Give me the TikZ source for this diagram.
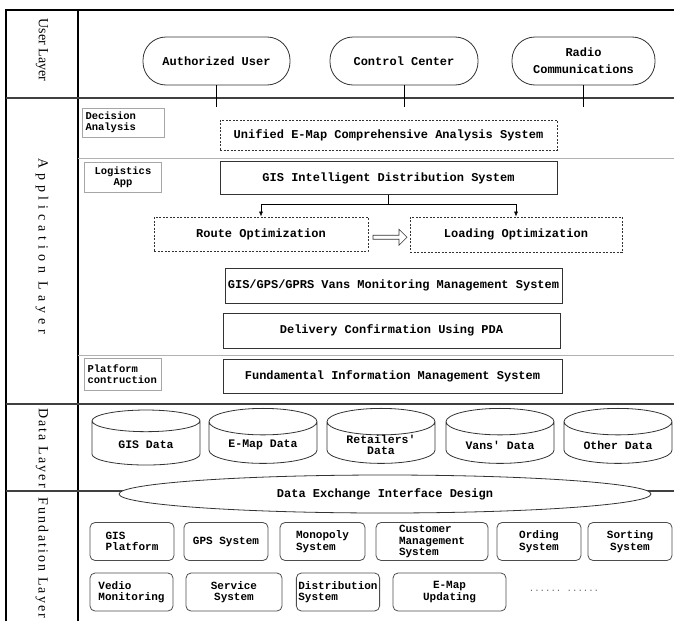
\documentclass[tikz,border=0pt]{standalone}
\usepackage{fontspec}
\setmainfont{Liberation Serif}
\setmonofont{Liberation Mono}
\newfontfamily\layerfont[LetterSpace=15]{Liberation Serif}
\newfontfamily\layerwide[LetterSpace=35]{Liberation Serif}
\usepackage{tikz}
\usetikzlibrary{shapes,arrows,arrows.meta,positioning,calc}

\tikzset{
    sysbox/.style={draw=black!80, line width=0.8pt, inner sep=2pt,
        font=\ttfamily\bfseries\fontsize{12}{13}\selectfont},
    dashbox/.style={sysbox, dash pattern=on 2pt off 1.5pt},
    tagbox/.style={draw=black!35, line width=0.8pt, inner sep=3pt, align=left,
        font=\ttfamily\bfseries\fontsize{10.5}{11}\selectfont},
    userpill/.style={draw=black!80, line width=0.8pt, rounded corners=23pt,
        minimum height=48pt, align=center,
        font=\ttfamily\bfseries\fontsize{12}{17}\selectfont},
    datacyl/.style={cylinder, shape border rotate=90, aspect=0.35, draw=black!80,
        line width=0.8pt, fill=white, minimum height=55pt, minimum width=108pt,
        inner ysep=0pt, align=center, font=\ttfamily\bfseries\fontsize{11.5}{11}\selectfont},
    basebox/.style={draw=black!70, line width=0.8pt, rounded corners=5pt,
        inner sep=2pt, font=\ttfamily\bfseries\fontsize{11}{11.5}\selectfont},
    layerline/.style={line width=1.8pt, black!75},
    subline/.style={line width=0.8pt, black!30},
    layertag/.style={rotate=-90, font=\layerfont\fontsize{14}{14}\selectfont}
}

\begin{document}
\begin{tikzpicture}[x=1pt, y=-1pt]
    \useasboundingbox (0,0) rectangle (674,621);

    % Frame and layer borders
    \draw[line width=1.5pt] (6,621) -- (6,10) -- (674,10);
    \draw[line width=1.5pt] (78,10) -- (78,621);
    \draw[layerline] (6,98) -- (674,98);
    \draw[layerline] (6,404) -- (674,404);
    \draw[layerline] (6,491) -- (674,491);
    \draw[subline] (78,158) -- (674,158);
    \draw[subline] (78,355) -- (674,355);

    % Layer names
    \node[layertag, font=\rmfamily\fontsize{14}{14}\selectfont] (userl) at (42,50) {User Layer};
    \node[layertag, font=\layerwide\fontsize{14}{14}\selectfont] (appl) at (42,246) {Application Layer};
    \node[layertag] (datal) at (42,448) {Data Layer};
    \node[layertag] (fundl) at (42,558) {Fundation Layer};

    % User layer
    \node[userpill, minimum width=147pt] (auth) at (216.5,61) {Authorized User};
    \node[userpill, minimum width=148pt] (ctrl) at (404,61) {Control Center};
    \node[userpill, minimum width=143pt] (radio) at (583.5,61) {Radio\\Communications};
    \draw[line width=0.6pt] (auth.south) -- ++(0,22);
    \draw[line width=0.6pt] (ctrl.south) -- ++(0,22);
    \draw[line width=0.6pt] (radio.south) -- ++(0,22);

    % Application layer
    \node[tagbox, text width=76pt, minimum height=29pt] (decision) at (123.5,122.5) {Decision\\Analysis};
    \node[dashbox, minimum width=337pt, minimum height=30pt] (unified) at (388.5,135) {Unified E-Map Comprehensive Analysis System};
    \node[tagbox, align=center, text width=71pt, minimum height=30pt] (logistics) at (123,177) {Logistics\\App};
    \node[sysbox, minimum width=337pt, minimum height=33pt] (gisids) at (388.5,178) {GIS Intelligent Distribution System};
    \node[dashbox, minimum width=214pt, minimum height=34pt] (route) at (261,234) {Route Optimization};
    \node[dashbox, minimum width=212pt, minimum height=35pt] (loading) at (516,234.5) {Loading Optimization};
    \node[sysbox, minimum width=337pt, minimum height=35pt] (vans) at (393.5,285.5) {GIS/GPS/GPRS Vans Monitoring Management System};
    \node[sysbox, minimum width=337pt, minimum height=35pt] (pda) at (391.5,330.5) {Delivery Confirmation Using PDA};
    \node[tagbox, text width=71pt, minimum height=32pt] (platform) at (123,374) {Platform\\contruction};
    \node[sysbox, minimum width=339pt, minimum height=34pt] (fundamental) at (392.5,376) {Fundamental Information Management System};

    \coordinate (split) at ($(gisids.south)+(0,9)$);
    \draw[line width=0.6pt] (gisids.south) -- (split);
    \draw[line width=0.6pt, -{Latex[length=5pt,width=4pt]}] (split) -| (route.north);
    \draw[line width=0.6pt, -{Latex[length=5pt,width=4pt]}] (split) -| (loading.north);
    \node[single arrow, draw=black!80, line width=0.6pt, minimum height=34pt, minimum width=16pt,
        single arrow head extend=4pt, single arrow head indent=0pt, inner sep=1pt] (shift)
        at ($(route.east)!0.5!(loading.west)+(0,3)$) {};

    % Data layer
    \node[datacyl] (gisdata) at (146,445) {GIS Data};
    \node[datacyl] (emapdata) at (263,445) {E-Map Data};
    \node[datacyl] (retail) at (381,445) {Retailers'\\Data};
    \node[datacyl] (vansdata) at (500,445) {Vans' Data};
    \node[datacyl] (other) at (618,445) {Other Data};
    \node[ellipse, draw=black!80, line width=0.8pt, fill=white, minimum width=532pt, minimum height=38pt,
        font=\ttfamily\bfseries\fontsize{12}{13}\selectfont] (exchange) at (385,494) {Data Exchange Interface Design};

    % Fundation layer
    \node[basebox, align=left, minimum width=84pt, minimum height=38pt] (gisplat) at (132,541.5) {GIS\\Platform};
    \node[basebox, minimum width=84pt, minimum height=38pt] (gps) at (226,541.5) {GPS System};
    \node[basebox, align=left, minimum width=85pt, minimum height=38pt] (monopoly) at (322.5,541.5) {Monopoly\\System};
    \node[basebox, align=left, minimum width=112pt, minimum height=38pt] (customer) at (432,541.5) {Customer\\Management\\System};
    \node[basebox, align=center, minimum width=84pt, minimum height=38pt] (ording) at (539,541.5) {Ording\\System};
    \node[basebox, align=center, minimum width=84pt, minimum height=38pt] (sorting) at (630,541.5) {Sorting\\System};
    \node[basebox, align=left, minimum width=83pt, minimum height=38pt] (vedio) at (131.5,592) {Vedio\\Monitoring};
    \node[basebox, align=center, minimum width=96pt, minimum height=38pt] (service) at (234,592) {Service\\System};
    \node[basebox, align=left, minimum width=82pt, minimum height=38pt] (distrib) at (338,592) {Distribution\\System};
    \node[basebox, align=center, minimum width=113pt, minimum height=38pt] (emapupd) at (449.5,592) {E-Map\\Updating};
    \node[font=\ttfamily\fontsize{9}{9}\selectfont, text=black!60] (more) at (564,591) {...... ......};
\end{tikzpicture}
\end{document}
